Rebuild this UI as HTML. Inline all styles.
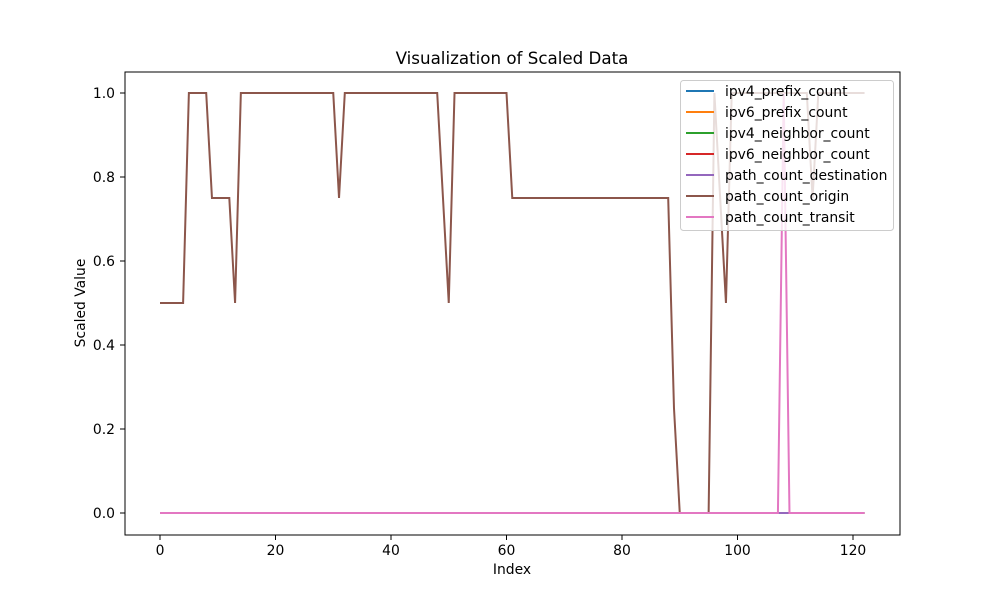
<!DOCTYPE html>
<html><head><meta charset="utf-8"><style>
body{margin:0;background:#fff;}
svg{display:block;font-family:"DejaVu Sans","Liberation Sans",sans-serif;}
</style></head><body>
<svg id="chart" width="1000" height="600" viewBox="0 0 1000 600" xmlns="http://www.w3.org/2000/svg">
<rect width="1000" height="600" fill="#fff"/>
<text x="512" y="64" text-anchor="middle" font-size="16.7">Visualization of Scaled Data</text>
<g id="plot"></g>
<rect x="125" y="72" width="775" height="463" fill="none" stroke="#000" stroke-width="1"/>
<g id="ticks"></g>
<text x="512" y="574" text-anchor="middle" font-size="13.9">Index</text>
<text transform="translate(85,303) rotate(-90)" text-anchor="middle" font-size="13.9">Scaled Value</text>
<g id="legend"></g>
</svg>
<script>
const seriesNames = ["ipv4_prefix_count","ipv6_prefix_count","ipv4_neighbor_count","ipv6_neighbor_count","path_count_destination","path_count_origin","path_count_transit"];
const seriesColors = ["#1f77b4","#ff7f0e","#2ca02c","#d62728","#9467bd","#8c564b","#e377c2"];
const originValues = [0.5,0.5,0.5,0.5,0.5,1,1,1,1,0.75,0.75,0.75,0.75,0.5,1,1,1,1,1,1,1,1,1,1,1,1,1,1,1,1,1,0.75,1,1,1,1,1,1,1,1,1,1,1,1,1,1,1,1,1,0.75,0.5,1,1,1,1,1,1,1,1,1,1,0.75,0.75,0.75,0.75,0.75,0.75,0.75,0.75,0.75,0.75,0.75,0.75,0.75,0.75,0.75,0.75,0.75,0.75,0.75,0.75,0.75,0.75,0.75,0.75,0.75,0.75,0.75,0.75,0.25,0,0,0,0,0,0,1,0.75,0.5,1,1,1,1,1,1,1,1,1,1,1,1,1,1,0.75,1,1,1,1,1,1,1,1,1];
const transitValues = [0,0,0,0,0,0,0,0,0,0,0,0,0,0,0,0,0,0,0,0,0,0,0,0,0,0,0,0,0,0,0,0,0,0,0,0,0,0,0,0,0,0,0,0,0,0,0,0,0,0,0,0,0,0,0,0,0,0,0,0,0,0,0,0,0,0,0,0,0,0,0,0,0,0,0,0,0,0,0,0,0,0,0,0,0,0,0,0,0,0,0,0,0,0,0,0,0,0,0,0,0,0,0,0,0,0,0,0,1,0,0,0,0,0,0,0,0,0,0,0,0,0,0];
const zeroValues = new Array(123).fill(0);
const xTicks = [0,20,40,60,80,100,120];
const yTicks = [0.0,0.2,0.4,0.6,0.8,1.0];
const yTickLabels = ["0.0","0.2","0.4","0.6","0.8","1.0"];

const NS="http://www.w3.org/2000/svg";
const xs = v => 160 + v*(853-160)/120;
const ys = v => 513 - v*420;
const plot=document.getElementById('plot');
const allSeries=[zeroValues,zeroValues,zeroValues,zeroValues,zeroValues,originValues,transitValues];
allSeries.forEach((vals,i)=>{
  const p=document.createElementNS(NS,'polyline');
  p.setAttribute('points',vals.map((v,j)=>xs(j).toFixed(2)+','+ys(v).toFixed(2)).join(' '));
  p.setAttribute('fill','none');p.setAttribute('stroke',seriesColors[i]);p.setAttribute('stroke-width','2');
  
  
  plot.appendChild(p);
});
const ticks=document.getElementById('ticks');
xTicks.forEach(t=>{
  const l=document.createElementNS(NS,'line');
  l.setAttribute('x1',xs(t));l.setAttribute('x2',xs(t));l.setAttribute('y1',535);l.setAttribute('y2',540);l.setAttribute('stroke','#000');
  
  
  ticks.appendChild(l);
  const tx=document.createElementNS(NS,'text');
  tx.setAttribute('x',xs(t));tx.setAttribute('y',555);tx.setAttribute('text-anchor','middle');tx.setAttribute('font-size','13.9');
  tx.textContent=t;
  
  
  ticks.appendChild(tx);
});
yTicks.forEach((t,i)=>{
  const l=document.createElementNS(NS,'line');
  l.setAttribute('x1',120);l.setAttribute('x2',125);l.setAttribute('y1',ys(t));l.setAttribute('y2',ys(t));l.setAttribute('stroke','#000');
  
  
  ticks.appendChild(l);
  const tx=document.createElementNS(NS,'text');
  tx.setAttribute('x',115);tx.setAttribute('y',ys(t)+5);tx.setAttribute('text-anchor','end');tx.setAttribute('font-size','13.9');
  tx.textContent=yTickLabels[i];
  
  
  ticks.appendChild(tx);
});
const lg=document.getElementById('legend');
const box=document.createElementNS(NS,'rect');
box.setAttribute('x',680.5);box.setAttribute('y',80.5);box.setAttribute('width',213);box.setAttribute('height',150);box.setAttribute('rx',3);
box.setAttribute('fill','rgba(255,255,255,0.8)');box.setAttribute('stroke','#ccc');


lg.appendChild(box);
seriesNames.forEach((n,i)=>{
  const y=91+i*21;
  const l=document.createElementNS(NS,'line');
  l.setAttribute('x1',686);l.setAttribute('x2',714);l.setAttribute('y1',y);l.setAttribute('y2',y);l.setAttribute('stroke',seriesColors[i]);l.setAttribute('stroke-width','2');
  
  
  lg.appendChild(l);
  const tx=document.createElementNS(NS,'text');
  tx.setAttribute('x',725);tx.setAttribute('y',y+5);tx.setAttribute('font-size','13.9');tx.textContent=n;
  
  
  lg.appendChild(tx);
});
</script>
</body></html>
